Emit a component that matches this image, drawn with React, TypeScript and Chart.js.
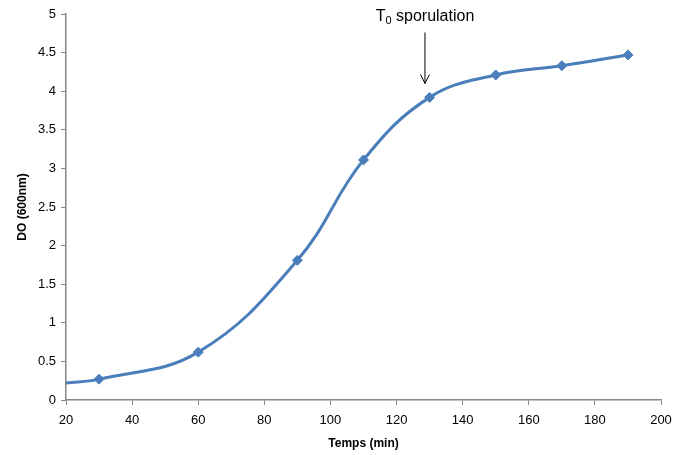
import React, { useEffect, useRef } from "react";
import { Chart, registerables } from "chart.js";

Chart.register(...registerables);

const timeMin = [20, 30, 60, 90, 110, 130, 150, 170, 190];
const doValues = [0.22, 0.27, 0.62, 1.81, 3.11, 3.92, 4.21, 4.33, 4.47];
const markerShown = [false, true, true, true, true, true, true, true, true];
const xTicks = { min: 20, max: 200, step: 20 };
const yTicks = { min: 0, max: 5, step: 0.5 };
const annotationX = 128.6;
const annotationYTop = 4.76;
const annotationYBottom = 4.1;
const annotationTextY = 4.98;

const FONT = "'Liberation Sans', Arial, sans-serif";
const BLUE = "#4A7EBB";
const AXIS = "#868686";

const annotationPlugin = {
  id: "sporulation",
  afterDatasetsDraw(chart: any) {
    const { ctx, scales } = chart;
    const x = scales.x.getPixelForValue(annotationX);
    const yTop = scales.y.getPixelForValue(annotationYTop);
    const yBot = scales.y.getPixelForValue(annotationYBottom);
    const yText = scales.y.getPixelForValue(annotationTextY);
    ctx.save();
    ctx.strokeStyle = "#000";
    ctx.lineWidth = 1;
    ctx.beginPath();
    ctx.moveTo(x, yTop);
    ctx.lineTo(x, yBot);
    ctx.moveTo(x - 4.5, yBot - 9);
    ctx.lineTo(x, yBot);
    ctx.lineTo(x + 4.5, yBot - 9);
    ctx.stroke();
    ctx.fillStyle = "#000";
    ctx.textBaseline = "alphabetic";
    ctx.textAlign = "left";
    const big = `16px ${FONT}`;
    const small = `11px ${FONT}`;
    ctx.font = big;
    const wT = ctx.measureText("T").width;
    const rest = " sporulation";
    const wRest = ctx.measureText(rest).width;
    ctx.font = small;
    const w0 = ctx.measureText("0").width;
    const total = wT + w0 + wRest;
    let cx = x - total / 2;
    const base = yText + 5;
    ctx.font = big;
    ctx.fillText("T", cx, base);
    cx += wT;
    ctx.font = small;
    ctx.fillText("0", cx, base + 3);
    cx += w0;
    ctx.font = big;
    ctx.fillText(rest, cx, base);
    ctx.restore();
  },
};

export default function App() {
  const ref = useRef<HTMLCanvasElement | null>(null);
  useEffect(() => {
    if (!ref.current) return;
    const chart = new Chart(ref.current, {
      type: "line",
      data: {
        datasets: [
          {
            data: timeMin.map((t, i) => ({ x: t, y: doValues[i] })),
            borderColor: BLUE,
            backgroundColor: BLUE,
            borderWidth: 3,
            tension: 0.4,
            pointStyle: "rectRot",
            pointRadius: markerShown.map((m) => (m ? 5 : 0)),
            pointBorderWidth: 1,
            pointBackgroundColor: BLUE,
            pointBorderColor: BLUE,
          },
        ],
      },
      options: {
        animation: false,
        responsive: false,
        layout: { padding: { top: 14, right: 12, left: 0, bottom: 0 } },
        plugins: { legend: { display: false }, tooltip: { enabled: false } },
        scales: {
          x: {
            type: "linear",
            min: xTicks.min,
            max: xTicks.max,
            ticks: { stepSize: xTicks.step, color: "#000", font: { family: FONT, size: 13 }, padding: 8 },
            grid: { display: true, drawOnChartArea: false, drawTicks: true, tickLength: 5, tickColor: AXIS, color: AXIS },
            border: { color: AXIS, width: 1.5 },
            title: { display: true, text: "Temps (min)", color: "#000", font: { family: FONT, size: 12, weight: "bold" }, padding: { top: 4 } },
            afterFit: (s: any) => { s.height = 55; s.paddingRight = 0; s.paddingLeft = 0; },
          },
          y: {
            min: yTicks.min,
            max: yTicks.max,
            ticks: {
              stepSize: yTicks.step,
              color: "#000",
              font: { family: FONT, size: 13 },
              padding: 5,
              callback: (v: any) => String(Number(v)),
            },
            grid: { display: true, drawOnChartArea: false, drawTicks: true, tickLength: 5, tickColor: AXIS, color: AXIS },
            border: { color: AXIS, width: 1.5 },
            title: { display: true, text: "DO (600nm)", color: "#000", font: { family: FONT, size: 12, weight: "bold" }, padding: { top: 15, bottom: 4 } },
            afterFit: (s: any) => { s.width = 66; s.paddingTop = 0; s.paddingBottom = 0; },
          },
        },
      },
      plugins: [annotationPlugin],
    } as any);
    return () => chart.destroy();
  }, []);
  return (
    <div style={{ position: "fixed", left: 0, top: 0, width: 673, height: 455, background: "#fff" }}>
      <canvas ref={ref} width={673} height={455} style={{ width: 673, height: 455 }} />
    </div>
  );
}
